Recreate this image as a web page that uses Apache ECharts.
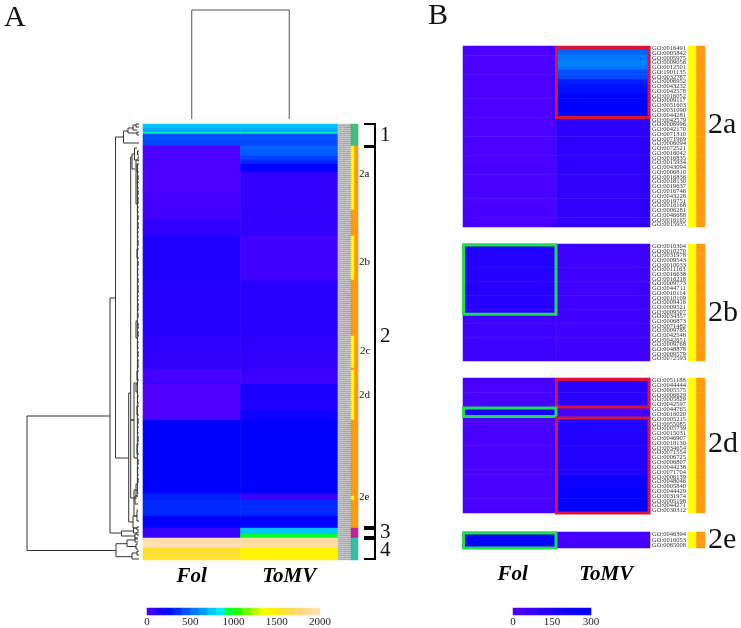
<!DOCTYPE html>
<html><head><meta charset="utf-8">
<style>html,body{margin:0;padding:0;background:#fff}#c{width:741px;height:628px}</style>
<script src="https://cdn.jsdelivr.net/npm/echarts@6/dist/echarts.min.js"></script>
</head><body><div id="c"></div>
<script>
const columns = ['Fol', 'ToMV'];
// Panel A: bands of rows (row count, Fol value, ToMV value)
const aSpans = [2,1,1,1,3,3, 2,3,2,2,4, 9,10,5,8, 22,28,7,10, 6,1, 8,5,5, 37,3,8,6, 3,2, 5,6];
const aFol   = [750,690,660,890,442,421, 15,15,15,15,15, 20,25,40,90, 140,120,105,95, 30,80, 0,0,0, 210,316,340,215, 75,75, 1950,1580];
const aTomv  = [750,690,660,890,442,421, 500,470,400,340,225, 85,90,95,90, 40,110,105,95, 55,30, 150,140,175, 210,55,340,215, 750,960, 1900,1440];
// Panel A annotation strips (row counts and class codes: 0 green,1 orange,2 magenta,3 teal,4 yellow,5 grey)
const subSpans = [11,32,13,22,28,16,1,25,38,2,14,5,11];
const subClass = [0,4,1,4,1,4,1,4,1,4,1,2,3];
const clusterSpans = [11,191,5,11];
const clusterClass = [0,1,2,3];
const labelBandSpans = [218];
const labelBandClass = [5];
// Panel B rows
const b2aLabels = ['GO:0016491','GO:0005842','GO:0005975','GO:0009056','GO:0012501','GO:1901135','GO:0032787','GO:0006952','GO:0043232','GO:0042578','GO:0016052','GO:0009117','GO:0051603','GO:0031090','GO:0044281','GO:0042579','GO:0006996','GO:0042170','GO:0071310','GO:0071969','GO:0006094','GO:0072521','GO:0016042','GO:0016835','GO:0015934','GO:0043094','GO:0006810','GO:0016836','GO:0018130','GO:0019637','GO:0016746','GO:0043228','GO:0019751','GO:0016168','GO:0006281','GO:0046688','GO:0016165','GO:0015935'];
const b2aFol  = [20,20,20,20,20,20,20,20,20,20,20,20,20,20,20,20,20,20,20,20,22,22,22,22,24,24,24,24,26,26,26,26,26,26,28,28,28,28];
const b2aTomv = [470,500,530,560,540,430,420,350,330,320,300,300,300,300,300,115,112,110,110,110,108,108,108,105,105,105,105,105,100,100,100,100,100,100,100,100,100,100];
const b2bLabels = ['GO:0010304','GO:0010270','GO:0031978','GO:0009543','GO:0010033','GO:0011163','GO:0016638','GO:0016218','GO:0009773','GO:0044711','GO:0010114','GO:0010109','GO:0009416','GO:0009521','GO:0009507','GO:0034357','GO:0006873','GO:0071482','GO:0009785','GO:0042548','GO:0042651','GO:0009768','GO:0048878','GO:0009579','GO:0072593'];
const b2bFol  = [140,140,140,135,135,135,130,130,130,130,130,125,125,125,125,60,60,60,60,60,60,60,60,60,60];
const b2bTomv = [55,55,55,55,55,55,55,55,55,55,55,55,55,55,55,55,55,55,55,55,55,55,55,55,55];
const b2dLabels = ['GO:0051188','GO:0044444','GO:0005575','GO:0006629','GO:0005829','GO:0042597','GO:0044765','GO:0016020','GO:0005215','GO:0055085','GO:0005739','GO:0015031','GO:0046907','GO:0018130','GO:0034654','GO:0071554','GO:0006725','GO:0006807','GO:0044238','GO:0071704','GO:0006139','GO:0048046','GO:0005840','GO:0044429','GO:0031974','GO:0005198','GO:0044271','GO:0030312'];
const b2dFol  = [25,25,25,25,25,25,190,190,25,25,25,25,25,25,25,25,25,25,25,25,25,25,25,25,25,25,25,25];
const b2dTomv = [120,120,120,120,120,120,35,35,150,150,150,150,150,150,150,150,150,150,150,150,200,210,220,280,290,290,290,290];
const b2eLabels = ['GO:0046394','GO:0016053','GO:0065008'];
const b2eFol  = [270,270,270];
const b2eTomv = [35,35,35];
// Highlight boxes: panel, column, first row, last row
const highlights = [
  ['2a',1,0,14],['2b',0,0,14],['2d',1,0,5],['2d',0,6,7],['2d',1,8,27],['2e',0,0,2]
];
// Colour bars
const aBarValues = [50,150,250,350,450,550,650,750,850,950,1050,1150,1250,1350,1450,1550,1650,1750,1850,1950];
const bBarValues = [25,75,125,175,225,275];
const aPalette = ['#5000ff','#2c00ff','#0000ff','#0020ff','#0048ff','#0070ff','#0098ff','#00c0ff','#00e8ff','#00ff30','#20ff00','#70ff00','#c0ff00','#ffff00','#fff000','#ffe030','#ffd860','#ffd880','#ffdca0','#ffe0c0'];
const bPalette = ['#5000ff','#3000ff','#1000ff','#0000ff','#0040ff','#0068ff','#0090ff'];
const classColors = ['#3fbf7f','#ff9a10','#c0209c','#30c0a8','#ffff00','#c6c6c6'];
// Dendrogram merges: height, leaf position top, leaf position bottom, child height top, child height bottom
const rowTree = [
 [112,292,426.5,29,23],[29,174,409,23.5,17.5],[23.5,13,334,15.5,10.3],[15.5,7,19,11,0],[11,4,9,6,2],[6,1,6,3,2],[3,0,3,0,0],[2,8,11,0,0],
 [10.3,269,398,8.3,6],[8.3,33,374,7,2],[7,30,45,4,4],[4.5,24,36,2,2],[3,36,80,1,1],[8.3,296,296,5,5],[5,259,334,2,1],
 [1.6,40,370,0.6,0.6],[6,392,404,2,2],[5,366,392,2,2],[3,360,372,1,1],[2,386,397,1,0],[4,372,380,1,1],
 [17.5,407,412,5.5,4],[5.5,404,409,2,2],[4,410,415,2,1],[2,403,406,0,0],[2,408,411,0,0],
 [23,419.7,432.7,12,7],[12,416,422.5,4,3],[4,414,418,1,1],[3,420,425,1,1],[7,429,435,2,0],[2,427,431,0,0],
 [1.5,27,31,0,0],[1,33,37,0,0],[2,40,48,0,0],[1,52,55,0,0],[1.5,58,64,0,0],[1,67,70,0,0],[1,74,79,0,0],[1.5,83,88,0,0],[1,92,95,0,0],[1,99,104,0,0],
 [1.5,108,113,0,0],[1,117,121,0,0],[2,125,134,0,0],[1,138,141,0,0],[1.5,145,151,0,0],[1,155,158,0,0],[1,162,168,0,0],[1.5,172,176,0,0],[1,180,186,0,0],[1,190,193,0,0],
 [3,197,214,1,1],[1,200,204,0,0],[1,208,212,0,0],[1.5,218,224,0,0],[1,228,232,0,0],[1,236,243,0,0],[2,247,256,0,0],[3,260,268,1,1],[1.5,272,279,0,0],[2,282,291,0,0],
 [1,295,299,0,0],[1.5,303,309,0,0],[1,313,317,0,0],[2,320,330,0,0],[1,336,340,0,0],[1.5,344,351,0,0],[1,355,358,0,0]
];
const colTree = [109];
const clusterBrackets = [[0,22],[23,403],[405,413],[415,435]];

const serif = '"Liberation Serif","Times New Roman",serif';
const expand = (spans, vals) => spans.flatMap((n, i) => Array(n).fill(vals[i]));
const heatData = colsVals => colsVals.flatMap((vals, c) => vals.map((v, r) => [c, r, v]));

const grids = [], xAxes = [], yAxes = [], series = [], extraX = [];
const hidden = {show:false};
function addGrid(g, x, y) {
  grids.push(g); const i = grids.length - 1;
  xAxes.push(Object.assign({gridIndex:i, axisLine:hidden, axisTick:hidden, splitLine:hidden, axisLabel:hidden}, x));
  yAxes.push(Object.assign({gridIndex:i, axisLine:hidden, axisTick:hidden, splitLine:hidden, axisLabel:hidden}, y));
  return i;
}
const colLabel = (margin, pad) => ({show:true, fontFamily:serif, fontStyle:'italic', fontWeight:'bold', fontSize:21, color:'#000', margin, padding:pad});
function addHeat(name, g, data, bucket) {
  series.push({name, type:'heatmap', xAxisIndex:g, yAxisIndex:g, data, silent:true, progressive:0, animation:false, itemStyle:{borderWidth:0}});
  bucket.push(series.length - 1);
}
const aIdx = [], bIdx = [], clsIdx = [];

// Panel A heat
const aRowsFol = expand(aSpans, aFol), aRowsTomv = expand(aSpans, aTomv);
const allLabels = b2aLabels.concat(b2bLabels, b2dLabels, b2eLabels);
const aRowLabels = aRowsFol.map((_, i) => allLabels[i % allLabels.length]);
const gA = addGrid({left:143, top:124, width:195, height:436},
  {type:'category', data:columns, axisLabel:colLabel(6)},
  {type:'category', data:aRowLabels, inverse:true, position:'right', z:6,
   axisLabel:{show:true, interval:0, fontSize:2.5, fontFamily:serif, color:'#666', margin:0.5, hideOverlap:false}});
addHeat('A', gA, heatData([aRowsFol, aRowsTomv]), aIdx);
// Grey band behind the row labels of panel A
const gAL = addGrid({left:338, top:124, width:13, height:436},
  {type:'category', data:['labels']},
  {type:'category', data:aRowLabels, inverse:true});
addHeat('labels A', gAL, heatData([expand(labelBandSpans, labelBandClass)]), clsIdx);
// Panel A strips
const gAS = addGrid({left:351, top:124, width:7, height:436},
  {type:'category', data:['sub','cluster']},
  {type:'category', data:aRowLabels, inverse:true});
addHeat('strip A', gAS, heatData([expand(subSpans, subClass), expand(clusterSpans, clusterClass)]), clsIdx);

// Panel B heats
const panels = {};
[['2a',46,181,b2aLabels,b2aFol,b2aTomv],['2b',244,117,b2bLabels,b2bFol,b2bTomv],['2d',378,135,b2dLabels,b2dFol,b2dTomv],['2e',532,16,b2eLabels,b2eFol,b2eTomv]].forEach((p, k) => {
  const [id, top, height, labels, fol, tomv] = p;
  const g = addGrid({left:463, top, width:187, height},
    {type:'category', data:columns, axisLabel:k===3 ? colLabel(16,[0,0,0,6]) : hidden},
    {type:'category', data:labels, inverse:true, position:'right',
     axisLabel:{show:true, interval:0, fontSize:6.5, fontFamily:serif, color:'#333', margin:2, hideOverlap:false}});
  panels[id] = g;
  addHeat(id, g, heatData([fol, tomv]), bIdx);
  const gs = addGrid({left:688, top, width:17, height},
    {type:'category', data:['sub','cluster']},
    {type:'category', data:labels, inverse:true});
  addHeat('strip ' + id, gs, labels.flatMap((l, r) => [[0, r, 4], [1, r, 1]]), clsIdx);
});

// Highlight boxes
highlights.forEach(h => {
  const g = panels[h[0]];
  series.push({type:'custom', xAxisIndex:g, yAxisIndex:g, silent:true, animation:false, clip:false, z:5, data:[[h[1], h[2]]],
    renderItem:(params, api) => {
      const p = api.coord([h[1], h[2]]), s = api.size([1, 1]);
      const red = h[1] === 1;
      return {type:'rect', shape:{x:p[0]-s[0]/2+(red?0:0.5), y:p[1]-s[1]/2+(red?1.5:1), width:s[0]-1, height:(h[3]-h[2]+1)*s[1]-(red?1.5:1)},
        style:{fill:null, stroke:red?'#d8143c':'#1fdc50', lineWidth:3}};
    }});
});

// Row dendrogram
const gT = addGrid({left:0, top:124, width:139, height:436},
  {type:'value', min:0, max:139, inverse:true},
  {type:'value', min:0, max:436, inverse:true});
series.push({type:'custom', xAxisIndex:gT, yAxisIndex:gT, silent:true, animation:false, clip:false, data:rowTree,
  renderItem:(params, api) => {
    const [d, a, b, da, db] = rowTree[params.dataIndex];
    return {type:'polyline', shape:{points:[api.coord([da,a]), api.coord([d,a]), api.coord([d,b]), api.coord([db,b])]},
      style:{fill:null, stroke:'#333', lineWidth:1}};
  }});
// Column dendrogram
const gC = addGrid({left:143, top:10, width:195, height:109},
  {type:'category', data:columns},
  {type:'value', min:0, max:109});
series.push({type:'custom', xAxisIndex:gC, yAxisIndex:gC, silent:true, animation:false, clip:false, data:colTree.map(h => [0, h]),
  renderItem:(params, api) => {
    const h = colTree[params.dataIndex];
    return {type:'polyline', shape:{points:[api.coord([0,0]), api.coord([0,h]), api.coord([1,h]), api.coord([1,0])]},
      style:{fill:null, stroke:'#555', lineWidth:1}};
  }});
// Cluster brackets
const gB = addGrid({left:364, top:124, width:11, height:436},
  {type:'value', min:0, max:1},
  {type:'value', min:0, max:436, inverse:true});
series.push({type:'custom', xAxisIndex:gB, yAxisIndex:gB, silent:true, animation:false, clip:false, data:clusterBrackets,
  renderItem:(params, api) => {
    const [a, b] = clusterBrackets[params.dataIndex];
    return {type:'polyline', shape:{points:[api.coord([0,a]), api.coord([1,a]), api.coord([1,b]), api.coord([0,b])]},
      style:{fill:null, stroke:'#000', lineWidth:2}};
  }});

// Colour bars: category axis for the cells (index = grid index), extra value axis for the ticks
function addBar(left, width, values, max, interval, bucket) {
  const g = addGrid({left, top:608, width, height:8},
    {type:'category', data:values.map(String)},
    {type:'category', data:['bar']});
  extraX.push({gridIndex:g, type:'value', min:0, max, interval, position:'bottom', axisLine:hidden, axisTick:hidden, splitLine:hidden,
    axisLabel:{show:true, fontFamily:serif, fontSize:11, color:'#222', margin:2, formatter:v => String(v)}});
  addHeat('bar', g, values.map((v, i) => [i, 0, v]), bucket);
}
addBar(147, 173, aBarValues, 2000, 500, aIdx);
addBar(513, 78, bBarValues, 300, 150, bIdx);

const txt = (text, x, y, fontSize) => ({type:'text', x, y, silent:true, style:{text, fontFamily:serif, fontSize, fill:'#111', textAlign:'left', textVerticalAlign:'middle'}});
const chart = echarts.init(document.getElementById('c'), null, {renderer:'canvas'});
chart.setOption({
  animation:false, backgroundColor:'#fff', tooltip:{show:false},
  grid:grids, xAxis:xAxes.concat(extraX), yAxis:yAxes,
  visualMap:[
    {show:false, type:'continuous', seriesIndex:aIdx, min:0, max:2000, dimension:2, inRange:{color:aPalette}},
    {show:false, type:'continuous', seriesIndex:bIdx, min:0, max:600, dimension:2, inRange:{color:bPalette}},
    {show:false, type:'piecewise', seriesIndex:clsIdx, dimension:2, pieces:classColors.map((color, i) => ({min:i-0.5, max:i+0.5, color}))}
  ],
  series,
  graphic:[
    txt('A',4,18,30), txt('B',428,16,30),
    txt('1',380,135,21), txt('2',380,336,21), txt('3',380,532,21), txt('4',380,550,21),
    txt('2a',359,174,11), txt('2b',359,262,11), txt('2c',360,351,11), txt('2d',359,395,11), txt('2e',359,497,11),
    txt('2a',708,125,30), txt('2b',708,313,30), txt('2d',708,444,30), txt('2e',708,540,30)
  ]
});
</script>
</body></html>
